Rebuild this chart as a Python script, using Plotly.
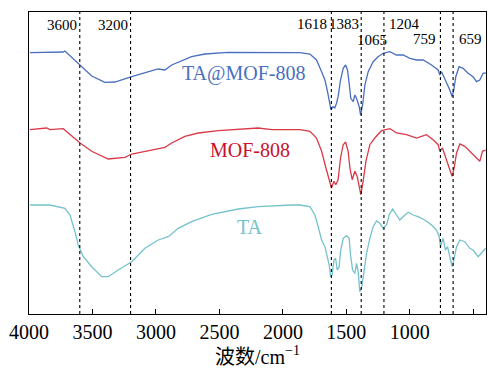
import plotly.graph_objects as go

# FTIR spectra (stacked with vertical offsets), wavenumber in cm^-1
wn_tamof = [3992, 3730, 3717, 3598, 3506, 3402, 3323, 3191, 2984, 2929, 2876, 2719, 2614, 2433,
            1866, 1787, 1735, 1695, 1669, 1651, 1635, 1622, 1604, 1591, 1577, 1565, 1546, 1525,
            1506, 1491, 1478, 1465, 1446, 1433, 1420, 1399, 1388, 1372, 1354, 1328, 1289, 1250,
            1210, 1157, 1105, 1053, 1000, 947, 895, 829, 777, 764, 750, 732, 711, 685, 667, 654,
            638, 612, 580, 541, 502, 475, 449, 423, 402]
t_tamof = [261.3, 262, 263, 249, 238, 231.7, 232, 237.3, 245, 244, 249, 257.3, 260, 261.7,
           261.3, 260, 254, 242.3, 234, 224, 212.3, 204.7, 207.3, 206, 211, 217.3, 234, 245.7,
           249, 244, 230.7, 215.7, 212.3, 219, 215.7, 207.3, 199, 209, 229, 242.3, 252.3, 257.3,
           260.7, 262.3, 259, 259, 255.7, 254, 254, 249, 244, 239, 242.3, 237.3, 232.3, 224, 217.3, 224,
           237.3, 247.3, 245.7, 240.7, 237.3, 232.3, 234, 240.7, 241]

wn_mof = [3992, 3861, 3835, 3730, 3598, 3506, 3376, 3244, 3191, 3034, 2929, 2876, 2772, 2667,
          2509, 2195, 2089, 1866, 1787, 1735, 1695, 1661, 1635, 1617, 1598, 1583, 1565, 1546,
          1525, 1506, 1486, 1472, 1454, 1433, 1415, 1394, 1386, 1368, 1346, 1315, 1276, 1223,
          1157, 1131, 1105, 1026, 947, 869, 817, 777, 764, 743, 711, 685, 667, 651, 632, 606,
          567, 528, 475, 449, 428, 402]
t_mof = [184.3, 186, 184.3, 185.3, 171, 162.7, 155, 156.7, 160, 164.3, 166.7, 171, 177.7, 181,
         183.3, 186, 184.3, 184.3, 182.7, 176, 162.7, 146, 132.7, 126, 132.7, 129.3, 134.3, 156,
         169.3, 172, 162.7, 146, 134.3, 142.7, 137.7, 126, 119.3, 132.7, 152.7, 169.3, 176, 183.3,
         185.3, 183.3, 181, 179.3, 176, 179.3, 174.3, 169.3, 162.7, 166, 152.7, 144.3, 137.7, 146, 161, 170,
         167.7, 162.7, 156, 152.7, 162.7, 164]

wn_ta = [3992, 3835, 3717, 3677, 3638, 3612, 3572, 3506, 3428, 3376, 3297, 3191, 3087, 2982,
         2903, 2824, 2719, 2561, 2352, 2195, 1932, 1866, 1787, 1748, 1722, 1695, 1669, 1651,
         1635, 1624, 1612, 1598, 1585, 1572, 1557, 1546, 1525, 1498, 1478, 1467, 1451, 1433,
         1420, 1407, 1394, 1378, 1362, 1341, 1315, 1289, 1262, 1236, 1210, 1183, 1163, 1136,
         1105, 1079, 1053, 1013, 974, 935, 882, 829, 790, 769, 758, 738, 719, 703, 685, 667,
         651, 632, 606, 567, 528, 502, 462, 435, 402]
t_ta = [109, 109, 105.7, 99, 82.3, 69, 57.3, 47.3, 37.3, 37.3, 44, 52.3, 65.7, 74,
        77.3, 85.7, 92.3, 99.7, 105, 107.3, 109, 109, 107.3, 99, 87.3, 74, 67.3, 59,
        49, 37.3, 39, 54, 55.7, 44, 47.3, 62.3, 75.7, 78.3, 75.7, 59, 44, 40.7,
        50.7, 42.3, 22.3, 27.3, 42.3, 60.7, 75.7, 87.3, 93, 90.7, 85.7, 89, 99, 105,
        99, 94, 97.3, 101.7, 99, 97.3, 94, 89, 84, 77.3, 67.3, 75.7, 64, 67.3, 57.3, 47.3,
        55.7, 67.3, 74, 72.3, 65.7, 64, 57.3, 60.7, 65.7]

series_names = ["TA@MOF-808", "MOF-808", "TA"]
line_colors = ["#4a6fc0", "#d93a48", "#74c2cc"]
label_colors = ["#4a6fc0", "#c8102e", "#74c2cc"]
label_wn = [2307, 2256, 2260]
label_t = [241, 164, 87]

marker_wn = [3600, 3200, 1618, 1383, 1204, 759, 659]
peak_labels = ["3600", "3200", "1618", "1383", "1065", "1204", "759", "659"]
peak_label_wn = [3600, 3200, 1618, 1383, 1300, 1204, 759, 659]
peak_label_row = [0.957, 0.957, 0.960, 0.960, 0.907, 0.960, 0.909, 0.909]
peak_label_anchor = ["right", "right", "right", "right", "center", "left", "right", "left"]
peak_label_shift = [-1, -1, -2, 0, 0, 3, -2, 4]

serif = "Liberation Serif, Times New Roman, Noto Sans CJK SC, serif"

fig = go.Figure()
for wn, t, name, col in zip([wn_tamof, wn_mof, wn_ta], [t_tamof, t_mof, t_ta], series_names, line_colors):
    fig.add_trace(go.Scatter(x=wn, y=t, mode="lines", name=name,
                             line=dict(color=col, width=1.3), showlegend=False))

for w in marker_wn:
    fig.add_shape(type="line", x0=w, x1=w, y0=0, y1=1, xref="x", yref="paper",
                  line=dict(color="black", width=1.1, dash="dot"))

for txt, w, yr, anc, sh in zip(peak_labels, peak_label_wn, peak_label_row, peak_label_anchor, peak_label_shift):
    fig.add_annotation(x=w, y=yr, xref="x", yref="paper", text=txt, showarrow=False,
                       xanchor=anc, yanchor="middle", xshift=sh,
                       font=dict(family=serif, size=15, color="black"))

for name, w, t, col in zip(series_names, label_wn, label_t, label_colors):
    fig.add_annotation(x=w, y=t, xref="x", yref="y", text=name, showarrow=False,
                       xanchor="center", yanchor="middle",
                       font=dict(family=serif, size=20, color=col))

fig.update_layout(
    width=488, height=369,
    margin=dict(l=29, r=2, t=12, b=55),
    paper_bgcolor="white", plot_bgcolor="white",
    font=dict(family=serif, size=20, color="black"),
    xaxis=dict(range=[4000, 400], tickvals=[4000, 3500, 3000, 2500, 2000, 1500, 1000, 500],
               ticks="inside", ticklen=5, tickwidth=1.2, tickcolor="black",
               showline=True, linecolor="black", linewidth=1.3, mirror=True,
               showgrid=False, zeroline=False,
               tickfont=dict(family=serif, size=20, color="black"),
               title=dict(text="波数/cm<sup>−1</sup>", standoff=4,
                          font=dict(family=serif, size=20, color="black"))),
    yaxis=dict(range=[0, 302], showticklabels=False, ticks="",
               showline=True, linecolor="black", linewidth=1.3, mirror=True,
               showgrid=False, zeroline=False),
)

fig.write_html("out.html")
